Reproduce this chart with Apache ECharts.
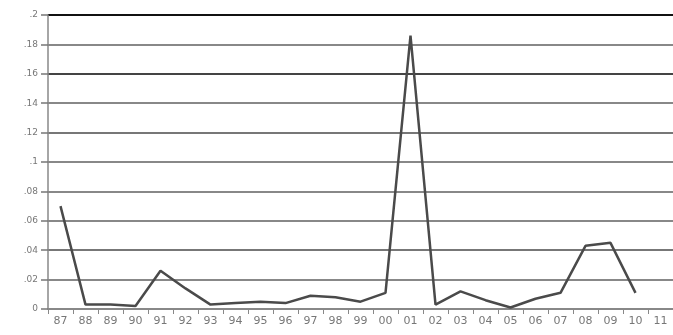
<!DOCTYPE html>
<html>
<head>
<meta charset="utf-8">
<script src="https://cdn.jsdelivr.net/npm/echarts@6/dist/echarts.min.js"></script>
<style>
  html, body { margin: 0; padding: 0; background: #fff; }
  #chart { width: 673px; height: 335px; }
</style>
</head>
<body>
<div id="chart"></div>
<script>
// years on the x axis (two-digit labels)
const years = ['87', '88', '89', '90', '91', '92', '93', '94', '95', '96', '97', '98', '99',
  '00', '01', '02', '03', '04', '05', '06', '07', '08', '09', '10', '11'];
// values
const values = [0.070, 0.003, 0.003, 0.002, 0.026, 0.014, 0.003, 0.004, 0.005, 0.004, 0.009, 0.008, 0.005,
  0.011, 0.186, 0.003, 0.012, 0.006, 0.001, 0.007, 0.011, 0.043, 0.045, 0.011, null];
// y tick labels, bottom to top
const yLabels = ['0', '.02', '.04', '.06', '.08', '.1', '.12', '.14', '.16', '.18', '.2'];

const chart = echarts.init(document.getElementById('chart'));

const option = {
  backgroundColor: '#fff',
  animation: false,
  grid: { left: 48, top: 15, width: 627, height: 294 },
  xAxis: {
    type: 'category',
    data: years,
    boundaryGap: true,
    axisLine: { lineStyle: { color: '#888', width: 1.5 } },
    axisTick: { show: true, length: 5, lineStyle: { color: '#888' } },
    axisLabel: { color: '#777', fontSize: 11, margin: 7, fontFamily: 'DejaVu Sans' },
    splitLine: { show: false }
  },
  yAxis: {
    type: 'value',
    min: 0,
    max: 0.2,
    interval: 0.02,
    axisLine: { show: true, lineStyle: { color: '#888', width: 1.5 } },
    axisTick: { show: true, length: 7, lineStyle: { color: '#777', width: 1.5 } },
    axisLabel: {
      color: '#777', fontSize: 9, margin: 10, fontFamily: 'DejaVu Sans',
      formatter: v => yLabels[Math.round(v / 0.02)]
    },
    splitLine: {
      lineStyle: {
        color: ['#888', '#888', '#777', '#888', '#888', '#888', '#777', '#888', '#444', '#888', '#111'],
        width: 2
      }
    }
  },
  series: [{
    type: 'line',
    data: values,
    showSymbol: false,
    lineStyle: { color: '#4a4a4a', width: 2.5 },
    connectNulls: false
  }]
};

chart.setOption(option);
</script>
</body>
</html>
